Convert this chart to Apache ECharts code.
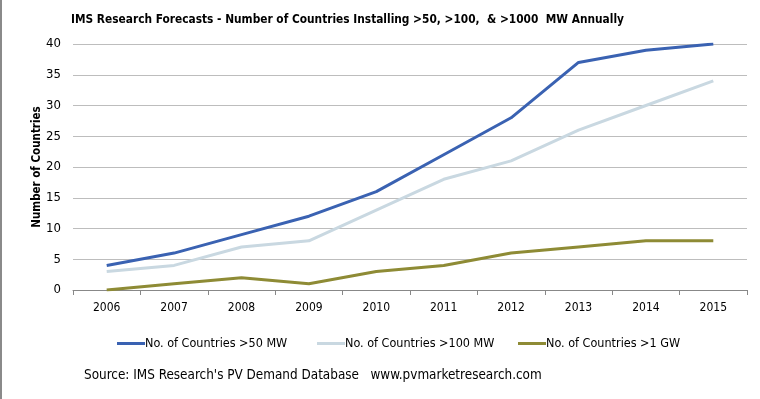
<!DOCTYPE html>
<html>
<head>
<meta charset="utf-8">
<script src="https://cdn.jsdelivr.net/npm/echarts@6/dist/echarts.min.js"></script>
<style>
html,body{margin:0;padding:0;background:#fff;}
#c{width:760px;height:399px;position:relative;}
#bl{position:absolute;left:0;top:0;width:2px;height:399px;background:#8a8a8a;z-index:5;}
</style>
</head>
<body>
<div id="c"></div><div id="bl"></div>
<script>
const categories = ['2006','2007','2008','2009','2010','2011','2012','2013','2014','2015'];
const seriesNames = ['No. of Countries >50 MW','No. of Countries >100 MW','No. of Countries >1 GW'];
const over50 = [4, 6, 9, 12, 16, 22, 28, 37, 39, 40];
const over100 = [3, 4, 7, 8, 13, 18, 21, 26, 30, 34];
const over1GW = [0, 1, 2, 1, 3, 4, 6, 7, 8, 8];
const colors = ['#3A62B2', '#C9D8E1', '#8E8B35'];
const titleText = 'IMS Research Forecasts - Number of Countries Installing >50, >100,  & >1000  MW Annually';
const yAxisName = 'Number of Countries';
const sourceText = "Source: IMS Research's PV Demand Database   www.pvmarketresearch.com";

const font = '"Liberation Sans Narrow", "DejaVu Sans Condensed", "Liberation Sans", sans-serif';
const chart = echarts.init(document.getElementById('c'));
const data = [over50, over100, over1GW];
const legendLefts = [112, 312, 513];
chart.setOption({
  animation: false,
  backgroundColor: '#fff',
  title: {
    text: titleText, left: 66, top: 9,
    textStyle: {fontFamily: font, fontSize: 11.8, fontWeight: 'bold', color: '#000'}
  },
  grid: {left: 73, right: 13, top: 44, bottom: 109, containLabel: false},
  legend: seriesNames.map((n, i) => ({
    data: [n], left: legendLefts[i], top: 332,
    itemWidth: 28, itemHeight: 3, itemGap: 0,
    icon: 'rect',
    textStyle: {fontFamily: font, fontSize: 12.5, color: '#000', padding: [0,0,0,-5]}
  })),
  xAxis: {
    type: 'category', data: categories, boundaryGap: true,
    axisLine: {lineStyle: {color: '#888', width: 1}},
    axisTick: {show: true, alignWithLabel: false, length: 5, lineStyle: {color: '#888'}},
    axisLabel: {fontFamily: font, fontSize: 12, color: '#000', margin: 12}
  },
  yAxis: {
    type: 'value', min: 0, max: 40, interval: 5,
    name: yAxisName, nameLocation: 'middle', nameGap: 30, nameMoveOverlap: false,
    nameTextStyle: {fontFamily: font, fontSize: 11.5, fontWeight: 'bold', color: '#000'},
    axisLine: {show: false}, axisTick: {show: false},
    splitLine: {lineStyle: {color: '#bdbdbd', width: 1}},
    axisLabel: {fontFamily: font, fontSize: 13, color: '#000', margin: 12}
  },
  series: seriesNames.map((n, i) => ({
    name: n, type: 'line', data: data[i],
    symbol: 'none', lineStyle: {color: colors[i], width: 3},
    itemStyle: {color: colors[i]}, z: 3 - i
  })),
  graphic: [{
    type: 'text', left: 84, top: 369,
    style: {text: sourceText, fontFamily: font, fontSize: 13.4, fill: '#000'}
  }]
});
</script>
</body>
</html>
